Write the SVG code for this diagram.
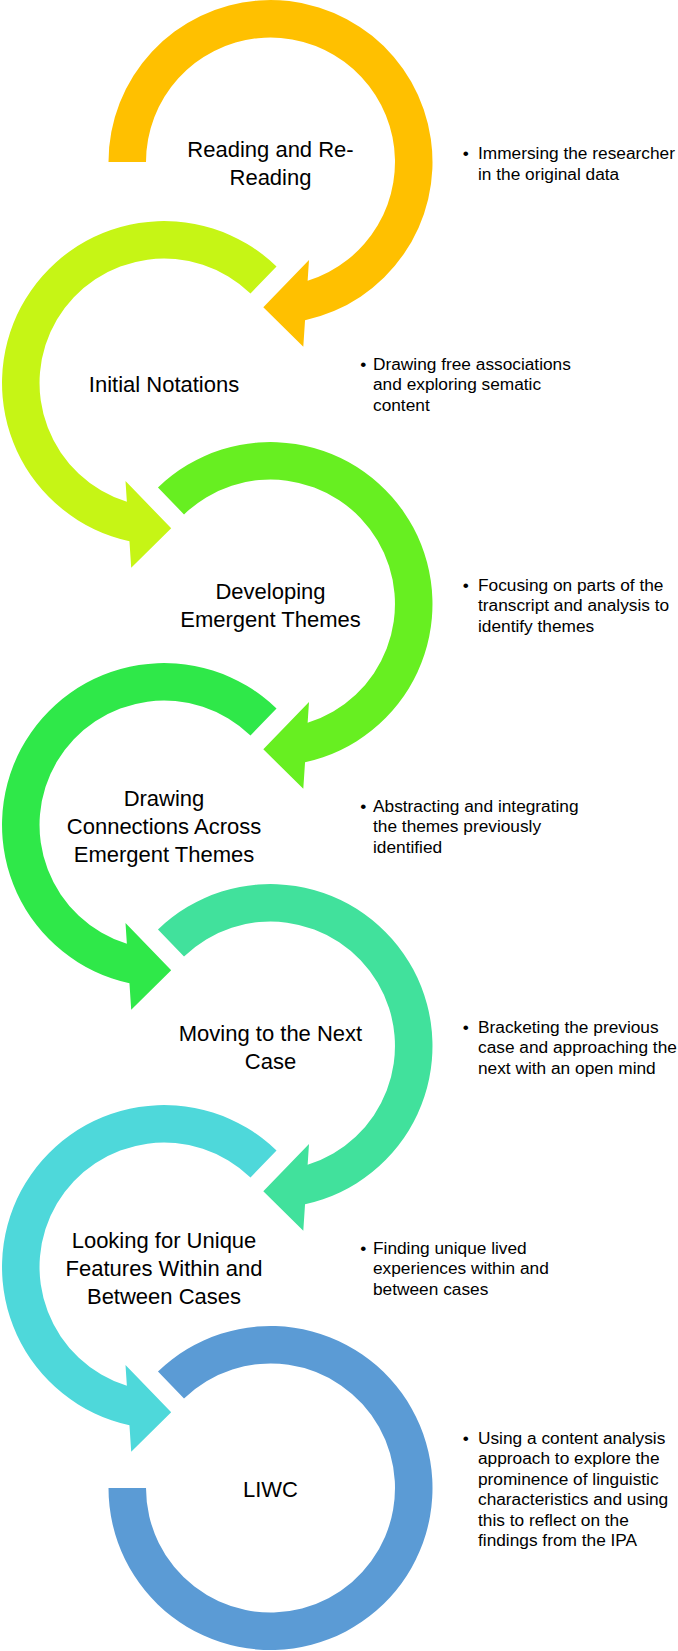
<svg xmlns="http://www.w3.org/2000/svg" xmlns:xlink="http://www.w3.org/1999/xlink" width="678" height="1651" viewBox="0 0 678 1651">
<style>
.lbl{font-family:"Liberation Sans",Arial,sans-serif;font-size:22px;fill:#000;text-anchor:middle}
.bul{font-family:"Liberation Sans",Arial,sans-serif;font-size:17.3px;fill:#000}
</style>
<defs>
<path id="arcA" d="M -162,0 A 162 162 0 1 1 34.54,158.3 L 32.8,184.7 L -7.2,145.3 L 38.5,98 L 37.13,118.85 A 124.5 124.5 0 1 0 -124.5,0 Z"/>
<path id="arcB" d="M -112.53,-116.53 A 162 162 0 1 1 34.54,158.3 L 32.8,184.7 L -7.2,145.3 L 38.5,98 L 37.13,118.85 A 124.5 124.5 0 1 0 -86.49,-89.56 Z"/>
<path id="arcD" d="M -112.53,-116.53 A 162 162 0 1 1 -162,0 L -124.5,0 A 124.5 124.5 0 1 0 -86.49,-89.56 Z"/>
</defs>
<rect width="678" height="1651" fill="#fff"/>
<g id="connectors"/>
<g id="node1">
<use xlink:href="#arcA" href="#arcA" transform="translate(270.5,162)" fill="#FFC000"/>
<text class="lbl" x="270.5" y="156.7">Reading and Re-</text>
<text class="lbl" x="270.5" y="185">Reading</text>
<text class="bul" x="462.7" y="159">•</text>
<text class="bul"><tspan x="478" y="159">Immersing the researcher</tspan><tspan x="478" y="179.5">in the original data</tspan></text>
</g>
<g id="node2">
<use xlink:href="#arcB" href="#arcB" transform="translate(164,383) scale(-1,1)" fill="#C6F515"/>
<text class="lbl" x="164" y="391.8">Initial Notations</text>
<text class="bul" x="360.3" y="369.5">•</text>
<text class="bul"><tspan x="373" y="369.5">Drawing free associations</tspan><tspan x="373" y="390">and exploring sematic</tspan><tspan x="373" y="410.5">content</tspan></text>
</g>
<g id="node3">
<use xlink:href="#arcB" href="#arcB" transform="translate(270.5,604)" fill="#67EF21"/>
<text class="lbl" x="270.5" y="598.7">Developing</text>
<text class="lbl" x="270.5" y="627">Emergent Themes</text>
<text class="bul" x="462.7" y="590.5">•</text>
<text class="bul"><tspan x="478" y="590.5">Focusing on parts of the</tspan><tspan x="478" y="611">transcript and analysis to</tspan><tspan x="478" y="631.5">identify themes</tspan></text>
</g>
<g id="node4">
<use xlink:href="#arcB" href="#arcB" transform="translate(164,825) scale(-1,1)" fill="#2FE849"/>
<text class="lbl" x="164" y="805.5">Drawing</text>
<text class="lbl" x="164" y="833.8">Connections Across</text>
<text class="lbl" x="164" y="862.1">Emergent Themes</text>
<text class="bul" x="360.3" y="811.5">•</text>
<text class="bul"><tspan x="373" y="811.5">Abstracting and integrating</tspan><tspan x="373" y="832">the themes previously</tspan><tspan x="373" y="852.5">identified</tspan></text>
</g>
<g id="node5">
<use xlink:href="#arcB" href="#arcB" transform="translate(270.5,1046)" fill="#41E19C"/>
<text class="lbl" x="270.5" y="1040.6">Moving to the Next</text>
<text class="lbl" x="270.5" y="1068.9">Case</text>
<text class="bul" x="462.7" y="1032.5">•</text>
<text class="bul"><tspan x="478" y="1032.5">Bracketing the previous</tspan><tspan x="478" y="1053">case and approaching the</tspan><tspan x="478" y="1073.5">next with an open mind</tspan></text>
</g>
<g id="node6">
<use xlink:href="#arcB" href="#arcB" transform="translate(164,1267) scale(-1,1)" fill="#4ED8DA"/>
<text class="lbl" x="164" y="1247.5">Looking for Unique</text>
<text class="lbl" x="164" y="1275.8">Features Within and</text>
<text class="lbl" x="164" y="1304.1">Between Cases</text>
<text class="bul" x="360.3" y="1253.5">•</text>
<text class="bul"><tspan x="373" y="1253.5">Finding unique lived</tspan><tspan x="373" y="1274">experiences within and</tspan><tspan x="373" y="1294.5">between cases</tspan></text>
</g>
<g id="node7">
<use xlink:href="#arcD" href="#arcD" transform="translate(270.5,1488)" fill="#5B9BD5"/>
<text class="lbl" x="270.5" y="1496.8">LIWC</text>
<text class="bul" x="462.7" y="1443.7">•</text>
<text class="bul"><tspan x="478" y="1443.7">Using a content analysis</tspan><tspan x="478" y="1464.2">approach to explore the</tspan><tspan x="478" y="1484.7">prominence of linguistic</tspan><tspan x="478" y="1505.2">characteristics and using</tspan><tspan x="478" y="1525.7">this to reflect on the</tspan><tspan x="478" y="1546.2">findings from the IPA</tspan></text>
</g>
</svg>
